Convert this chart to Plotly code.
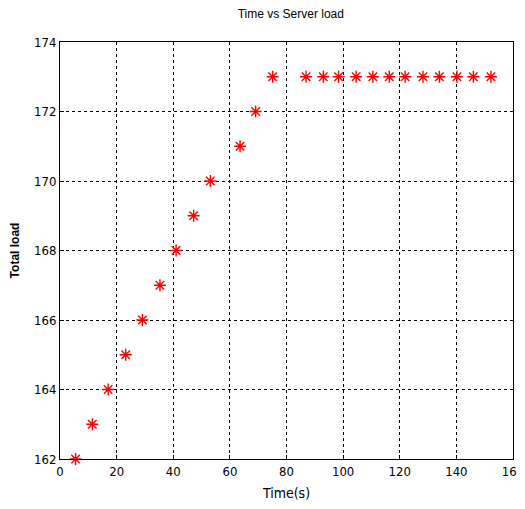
import plotly.graph_objects as go

time_s = [5.5, 11.4, 17.0, 23.2, 29.1, 35.3, 41.0, 47.2, 53.1, 63.6, 69.1, 75.1,
          86.9, 93.0, 98.4, 104.6, 110.5, 116.3, 121.9, 128.2, 134.0, 140.2, 146.0, 152.2]
total_load = [162, 163, 164, 165, 166, 167, 168, 169, 170, 171, 172, 173,
              173, 173, 173, 173, 173, 173, 173, 173, 173, 173, 173, 173]
x_ticks = [0, 20, 40, 60, 80, 100, 120, 140, 160]
y_ticks = [162, 164, 166, 168, 170, 172, 174]

fig = go.Figure()
fig.add_trace(go.Scatter(
    x=time_s, y=total_load, mode="markers",
    marker=dict(symbol="asterisk-open", size=10, color="red",
                line=dict(color="red", width=1.4)),
    showlegend=False,
    cliponaxis=False,
))

narrow = "DejaVu Sans Condensed, Liberation Sans"
tick_font = dict(family=narrow, size=13, color="black")
axis_common = dict(showline=True, linecolor="black", linewidth=1, mirror=True,
                   showgrid=True, gridcolor="black", griddash="dot", gridwidth=1,
                   ticks="inside", ticklen=4, tickcolor="black", zeroline=False,
                   tickfont=tick_font, ticklabeloverflow="allow")

fig.update_layout(
    width=517, height=501,
    paper_bgcolor="white", plot_bgcolor="white",
    margin=dict(l=52, r=12, t=34, b=50, autoexpand=False),
    title=dict(text="Time vs Server load", x=0.547, xanchor="center", y=0.996, yanchor="top",
               font=dict(family="Liberation Sans, Arial", size=12, color="black")),
    xaxis=dict(range=[0, 160], tickvals=x_ticks,
               title=dict(text="Time(s)", font=dict(family=narrow, size=14, color="black"), standoff=10),
               **axis_common),
    yaxis=dict(range=[162, 174], tickvals=y_ticks,
               title=dict(text="<b>Total load</b>", font=dict(family="Liberation Sans, Arial", size=12, color="black"), standoff=16),
               **axis_common),
)
fig.write_html("out.html")
